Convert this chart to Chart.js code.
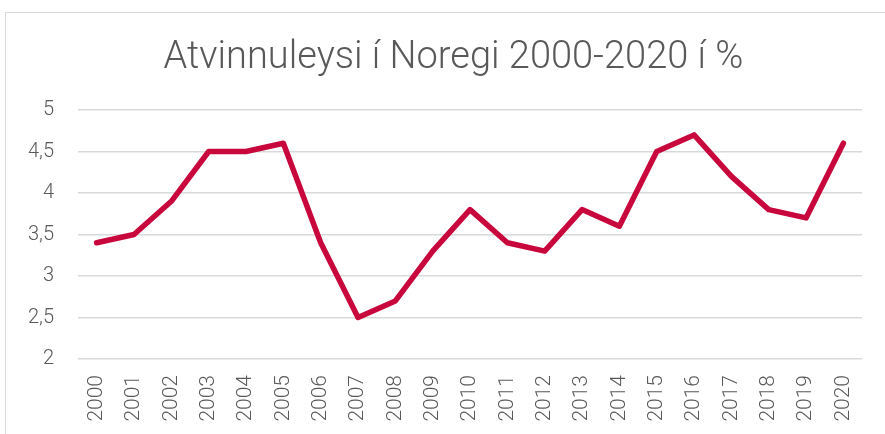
<!DOCTYPE html>
<html>
<head>
<meta charset="utf-8">
<script src="https://cdn.jsdelivr.net/npm/chart.js@4"></script>
<style>
  html, body { margin: 0; padding: 0; background: #fff; overflow: hidden; }
  #wrap { position: relative; width: 885px; height: 434px; overflow: hidden; }
  #frame { position: absolute; left: 5px; top: 12px; width: 1000px; height: 1000px; border: 1px solid #d9d9d9; pointer-events: none; }
  canvas { position: absolute; left: 0; top: 0; }
</style>
</head>
<body>
<div id="wrap">
  <div id="frame"></div>
  <canvas id="c" width="885" height="434"></canvas>
</div>
<script>
const years = ['2000','2001','2002','2003','2004','2005','2006','2007','2008','2009','2010','2011','2012','2013','2014','2015','2016','2017','2018','2019','2020'];
const unemployment = [3.4, 3.5, 3.9, 4.5, 4.5, 4.6, 3.4, 2.5, 2.7, 3.3, 3.8, 3.4, 3.3, 3.8, 3.6, 4.5, 4.7, 4.2, 3.8, 3.7, 4.6];
const yTicks = [2, 2.5, 3, 3.5, 4, 4.5, 5];
const titleText = 'Atvinnuleysi í Noregi 2000-2020 í %';

const titlePlugin = {
  id: 'offsetTitle',
  afterDraw(chart) {
    const ctx = chart.ctx;
    ctx.save();
    ctx.font = '300 38px Roboto';
    ctx.fillStyle = '#595959';
    ctx.textAlign = 'center';
    ctx.textBaseline = 'alphabetic';
    ctx.fillText(titleText, 453.5, 68);
    ctx.restore();
  }
};

new Chart(document.getElementById('c'), {
  type: 'line',
  data: {
    labels: years,
    datasets: [{
      data: unemployment,
      borderColor: '#c8073d',
      borderWidth: 5.5,
      pointRadius: 0,
      tension: 0,
      borderCapStyle: 'round',
      borderJoinStyle: 'round',
      fill: false
    }]
  },
  plugins: [titlePlugin],
  options: {
    responsive: false,
    animation: false,
    layout: { padding: { left: 0, right: 17, top: 110, bottom: 0 } },
    plugins: {
      legend: { display: false },
      tooltip: { enabled: false },
      title: { display: false }
    },
    scales: {
      x: {
        offset: true,
        grid: { display: false, drawTicks: false },
        border: { display: false },
        ticks: {
          color: '#595959',
          font: { family: 'Roboto', size: 21, weight: 300 },
          minRotation: 90, maxRotation: 90,
          padding: 16,
          autoSkip: false
        },
        afterFit: s => { s.height = 75; }
      },
      y: {
        min: 2, max: 5,
        afterBuildTicks: s => { s.ticks = yTicks.map(v => ({ value: v })); },
        grid: { color: '#d9d9d9', lineWidth: 1.5, drawTicks: false },
        border: { display: false },
        ticks: {
          color: '#595959',
          font: { family: 'Roboto', size: 20, weight: 300 },
          padding: 24,
          callback: v => String(v).replace('.', ',')
        },
        afterFit: s => { s.width = 78; }
      }
    }
  }
});
</script>
</body>
</html>
